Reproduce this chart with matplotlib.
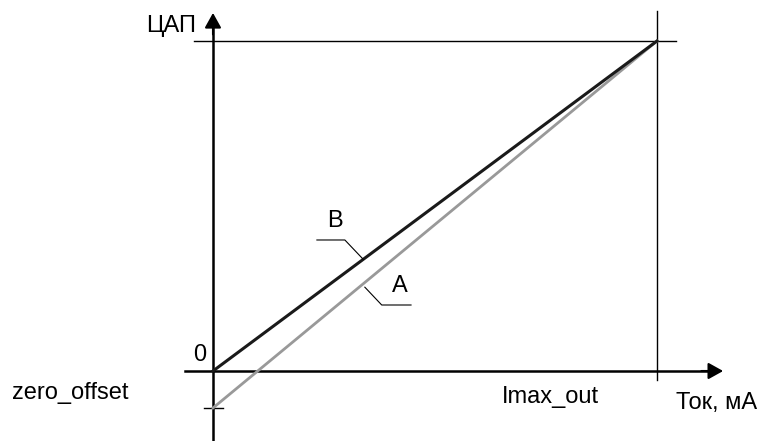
import matplotlib.pyplot as plt

# normalised current (x) and DAC code (y); Imax_out -> 1, full scale -> 1
current = [0.0, 1.0]
dac_b = [0.0, 1.0]
dac_a = [-0.112, 1.0]
zero_offset = dac_a[0]

plt.rcParams['font.family'] = ['Liberation Sans', 'DejaVu Sans']

fig = plt.figure(figsize=(7.57, 4.41), dpi=100)
ax = fig.add_axes([0, 0, 1, 1])
ax.set_xlim(-0.4797, 1.2252)
ax.set_ylim(-0.2121, 1.1242)
ax.axis('off')

# axes with arrows
ax.plot([-0.063, 1.13], [0, 0], color='black', lw=1.8)
ax.plot([0, 0], [-0.21, 1.05], color='black', lw=1.8)
arrow = dict(arrowstyle='-|>,head_length=0.9,head_width=0.5', color='black',
             lw=1.5, mutation_scale=10, shrinkA=0, shrinkB=0)
ax.annotate('', xy=(1.149, 0), xytext=(1.10, 0), arrowprops=arrow)
ax.annotate('', xy=(0, 1.085), xytext=(0, 1.02), arrowprops=arrow)

# guide lines for full scale
ax.plot([-0.043, 1.043], [1, 1], color='black', lw=1)
ax.plot([1, 1], [-0.027, 1.09], color='black', lw=1)
ax.plot([-0.02, 0.022], [zero_offset, zero_offset], color='black', lw=1)

ax.plot(current, dac_a, color='#999999', lw=2)
ax.plot(current, dac_b, color='#1a1a1a', lw=2.2)

# leader lines
ax.plot([0.234, 0.297, 0.338], [0.397, 0.397, 0.339], color='black', lw=0.8)
ax.plot([0.342, 0.38, 0.446], [0.254, 0.2, 0.2], color='black', lw=0.8)

fs = 17
ax.text(0.274, 0.455, 'B', fontsize=fs, ha='center', va='center')
ax.text(0.421, 0.258, 'A', fontsize=fs, ha='center', va='center')

ax.text(-0.038, 1.045, 'ЦАП', fontsize=fs, ha='right', va='center')
ax.text(-0.03, 0.05, '0', fontsize=fs, ha='center', va='center')
ax.text(-0.19, -0.067, 'zero_offset', fontsize=fs, ha='right', va='center')
ax.text(0.761, -0.08, 'Imax_out', fontsize=fs, ha='center', va='center')
ax.text(1.225, -0.097, 'Ток, мА', fontsize=fs, ha='right', va='center')

fig.savefig('out.png', dpi=100)
